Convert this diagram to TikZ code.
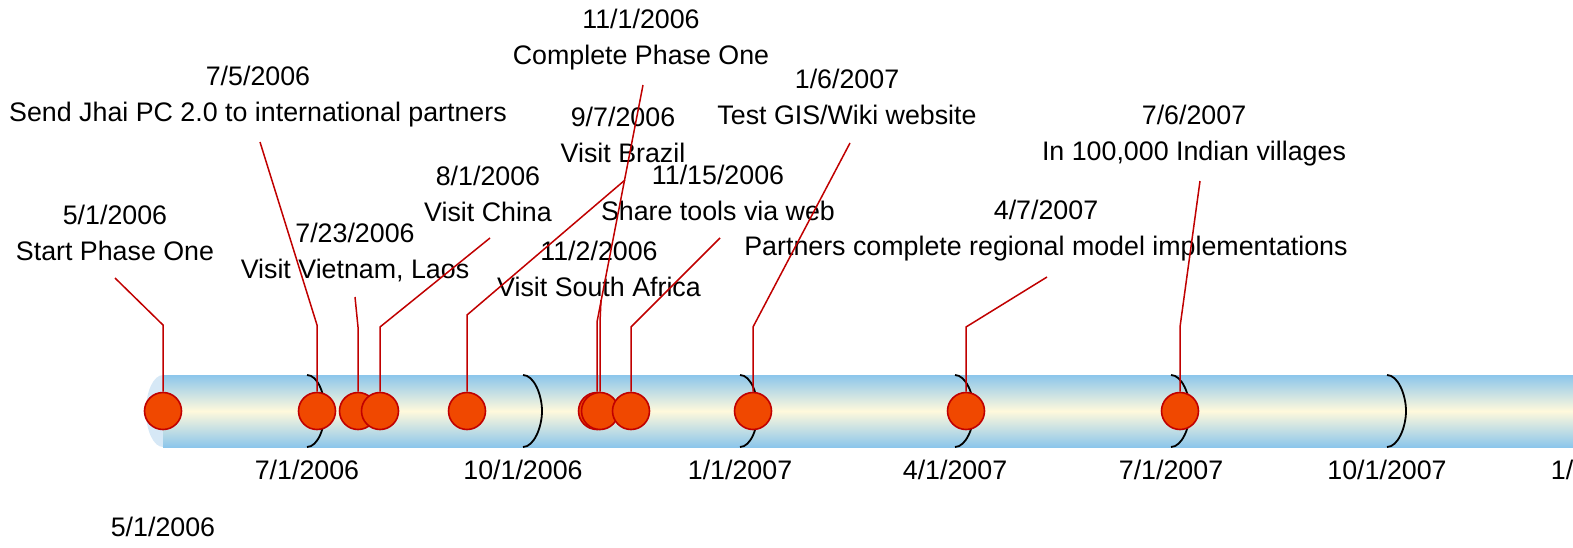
\documentclass[tikz,border=0pt]{standalone}
\usepackage{fontspec}
\setmainfont{Liberation Sans}
\usepackage{tikz}
\definecolor{tubeblue}{RGB}{140,198,235}
\definecolor{tubecream}{RGB}{255,249,220}
\definecolor{capblue}{RGB}{214,232,246}
\definecolor{dotfill}{RGB}{240,72,0}
\definecolor{dotline}{RGB}{192,0,0}
\tikzset{%
    evt/.style={inner sep=0pt,circle,minimum size=18.5pt,fill=dotfill,draw=dotline,line width=0.8pt},
    lbl/.style={inner sep=0pt,align=center,font=\fontsize{13.4}{18}\selectfont},
    lead/.style={draw=dotline,line width=0.75pt},
    qtick/.style={line width=0.9pt,black}
}
\begin{document}
\begin{tikzpicture}[x=0.5pt,y=-0.5pt]
        \useasboundingbox (0,0) rectangle (1573,547);
        \clip (0,0) rectangle (1573,547);
        % the tube
        \fill[capblue] (163,411) ellipse [x radius=17, y radius=36];
        \shade[top color=tubeblue,bottom color=tubeblue,middle color=tubecream] (163,375) rectangle (1573,447);
        % quarter marks
        \draw[qtick] (307,375) .. controls (318,375) and (325,395) .. (325,411) .. controls (325,427) and (318,447) .. (307,447);
        \draw[qtick] (523,375) .. controls (534,375) and (542,395) .. (542,411) .. controls (542,427) and (534,447) .. (523,447);
        \draw[qtick] (740,375) .. controls (751,375) and (758,395) .. (758,411) .. controls (758,427) and (751,447) .. (740,447);
        \draw[qtick] (955,375) .. controls (966,375) and (974,395) .. (974,411) .. controls (974,427) and (966,447) .. (955,447);
        \draw[qtick] (1171,375) .. controls (1182,375) and (1190,395) .. (1190,411) .. controls (1190,427) and (1182,447) .. (1171,447);
        \draw[qtick] (1387,375) .. controls (1398,375) and (1406,395) .. (1406,411) .. controls (1406,427) and (1398,447) .. (1387,447);
        \node[lbl] (q1) at (307,470) {7/1/2006};
        \node[lbl] (q2) at (523,470) {10/1/2006};
        \node[lbl] (q3) at (740,470) {1/1/2007};
        \node[lbl] (q4) at (955,470) {4/1/2007};
        \node[lbl] (q5) at (1171,470) {7/1/2007};
        \node[lbl] (q6) at (1387,470) {10/1/2007};
        \node[lbl] (q7) at (1603,470) {1/1/2008};
        \node[lbl] (q0) at (163,527) {5/1/2006};
        % events
        \node[evt] (e1) at (163,411){};
        \node[evt] (e2) at (317,411){};
        \node[evt] (e3) at (358,411){};
        \node[evt] (e4) at (380,411){};
        \node[evt] (e5) at (467,411){};
        \node[evt] (e6) at (597,411){};
        \node[evt] (e7) at (600,411){};
        \node[evt] (e8) at (631,411){};
        \node[evt] (e9) at (753,411){};
        \node[evt] (e10) at (966,411){};
        \node[evt] (e11) at (1180,411){};
        % labels
        \node[lbl] (l1) at (115,233) {5/1/2006\\Start Phase One};
        \node[lbl] (l2) at (258,97) {7/5/2006\\Send Jhai PC 2.0 to international partners};
        \node[lbl] (l3) at (355,252) {7/23/2006\\Visit Vietnam, Laos};
        \node[lbl] (l4) at (488,194) {8/1/2006\\Visit China};
        \node[lbl] (l5) at (623,135) {9/7/2006\\Visit Brazil};
        \node[lbl] (l6) at (641,40) {11/1/2006\\Complete Phase One};
        \node[lbl] (l7) at (599,269) {11/2/2006\\Visit South Africa};
        \node[lbl] (l8) at (718,193) {11/15/2006\\Share tools via web};
        \node[lbl] (l9) at (847,97) {1/6/2007\\Test GIS/Wiki website};
        \node[lbl] (l10) at (1046,231) {4/7/2007\\Partners complete regional model implementations};
        \node[lbl] (l11) at (1194,136) {7/6/2007\\In 100,000 Indian villages};
        % leader lines
        \coordinate (s1) at (115,278); \coordinate (k1) at (163,325);
        \coordinate (s2) at (260,142); \coordinate (k2) at (317,325);
        \coordinate (s3) at (355,297); \coordinate (k3) at (358,327);
        \coordinate (s4) at (490,238); \coordinate (k4) at (380,327);
        \coordinate (s5) at (625,180); \coordinate (k5) at (467,315);
        \coordinate (s6) at (643,85); \coordinate (k6) at (597,322);
        \coordinate (s7) at (601,300); \coordinate (k7) at (600,322);
        \coordinate (s8) at (720,238); \coordinate (k8) at (631,327);
        \coordinate (s9) at (850,143); \coordinate (k9) at (753,327);
        \coordinate (s10) at (1047,277); \coordinate (k10) at (966,327);
        \coordinate (s11) at (1200,181); \coordinate (k11) at (1180,327);
        \draw[lead] (s1) -- (k1) -- (e1);
        \draw[lead] (s2) -- (k2) -- (e2);
        \draw[lead] (s3) -- (k3) -- (e3);
        \draw[lead] (s4) -- (k4) -- (e4);
        \draw[lead] (s5) -- (k5) -- (e5);
        \draw[lead] (s6) -- (k6) -- (e6);
        \draw[lead] (s7) -- (k7) -- (e7);
        \draw[lead] (s8) -- (k8) -- (e8);
        \draw[lead] (s9) -- (k9) -- (e9);
        \draw[lead] (s10) -- (k10) -- (e10);
        \draw[lead] (s11) -- (k11) -- (e11);
    \end{tikzpicture}
\end{document}
